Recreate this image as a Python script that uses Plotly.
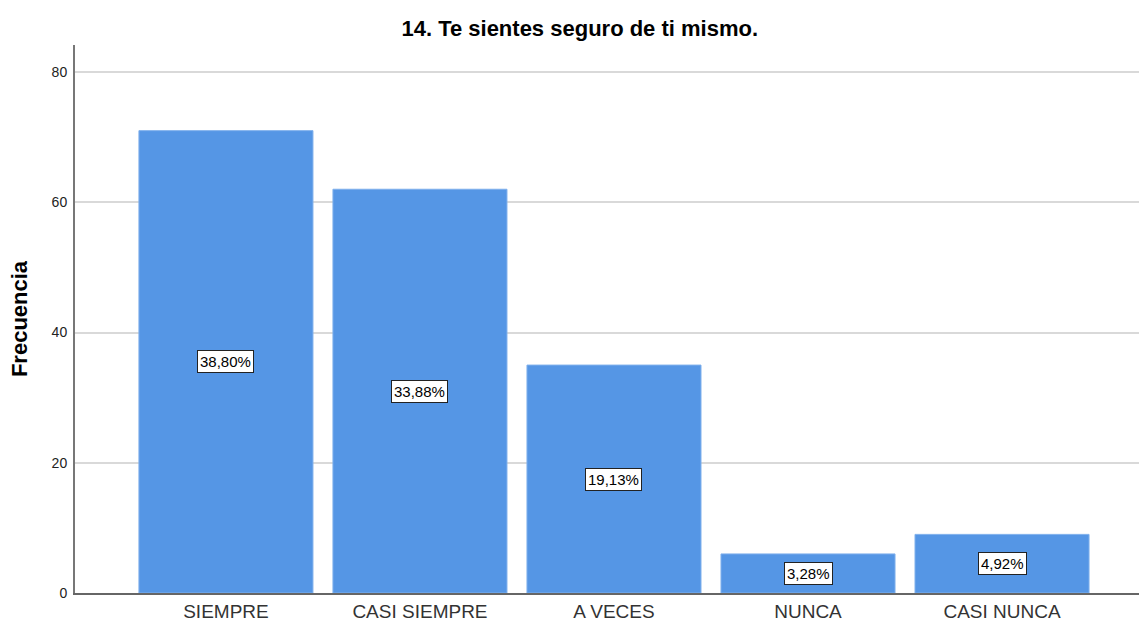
import plotly.graph_objects as go

# Frequencies per answer category
categorias = ["SIEMPRE", "CASI SIEMPRE", "A VECES", "NUNCA", "CASI NUNCA"]
frecuencias = [71, 62, 35, 6, 9]
porcentajes = ["38,80%", "33,88%", "19,13%", "3,28%", "4,92%"]
y_ticks = [0, 20, 40, 60, 80]

FONT = "Arial, Liberation Sans, sans-serif"

fig = go.Figure()
fig.add_trace(go.Bar(
    x=list(range(len(categorias))),
    y=frecuencias,
    width=0.897,
    marker=dict(color="#5596E5", line=dict(color="#7FB0EC", width=1)),
    hoverinfo="skip",
))

# Percentage labels centred inside each bar
for i, (f, p) in enumerate(zip(frecuencias, porcentajes)):
    fig.add_annotation(
        x=i, y=f / 2, text=p, showarrow=False,
        font=dict(family=FONT, size=15, color="black"),
        bgcolor="white", bordercolor="#222222", borderwidth=1, borderpad=2,
    )

fig.update_layout(
    width=1139, height=625,
    margin=dict(l=75, r=0, t=45, b=32),
    paper_bgcolor="white", plot_bgcolor="white",
    showlegend=False,
    title=dict(
        text="<b>14. Te sientes seguro de ti mismo.</b>",
        x=0.509, xanchor="center", y=0.955, yanchor="middle",
        font=dict(family=FONT, size=22, color="black"),
    ),
    xaxis=dict(
        range=[-0.778, 4.706], automargin=False,
        tickmode="array", tickvals=list(range(len(categorias))), ticktext=categorias,
        tickfont=dict(family=FONT, size=19, color="#333333"),
        showline=True, linecolor="#666666", linewidth=2,
        showgrid=False, zeroline=False, ticks="", ticklabelstandoff=0,
    ),
    yaxis=dict(
        range=[0, 84.15], automargin=False,
        tickvals=y_ticks,
        tickfont=dict(family=FONT, size=14, color="#222222"),
        showline=True, linecolor="#777777", linewidth=2,
        showgrid=True, gridcolor="#D9D9D9", gridwidth=2,
        zeroline=False, ticks="outside", ticklen=3, tickcolor="white",
        title=dict(text="<b>Frecuencia</b>", font=dict(family=FONT, size=22, color="black"), standoff=18),
    ),
)

fig.write_html("out.html")
